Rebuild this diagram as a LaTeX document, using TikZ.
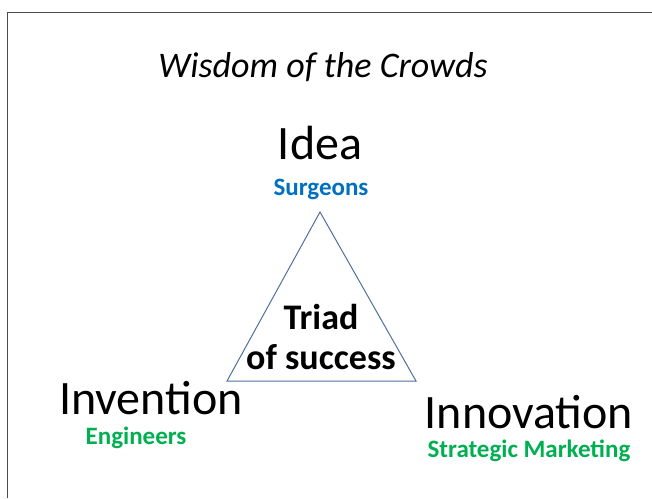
\documentclass[tikz,border=0pt]{standalone}
\usepackage{fontspec}
\setmainfont{Carlito}[Ligatures=Common]
\definecolor{framegray}{HTML}{4A4A4A}
\definecolor{triblue}{HTML}{4F6FA0}
\definecolor{roleblue}{HTML}{0070C0}
\definecolor{rolegreen}{HTML}{00B050}
\begin{document}
\begin{tikzpicture}[x=1pt,y=-1pt,
  heading/.style={inner sep=0pt, anchor=base, font=\fontsize{48}{52}\selectfont},
  role/.style={inner sep=0pt, anchor=base, font=\bfseries\fontsize{25}{28}\selectfont},
]
\useasboundingbox (0,0) rectangle (652,498);
% slide frame (left and top edges)
\draw[framegray, line width=0.8pt] (7,498) -- (7,12) -- (652,12);

\node[inner sep=0pt, anchor=base, font=\itshape\fontsize{36}{40}\selectfont] (title) at (323,77) {Wisdom of the Crowds};

\node[heading] (idea) at (320,159) {Idea};
\node[role, roleblue] (surg) at (321,195) {Surgeons};

% triangle
\coordinate (apex) at (320,212);
\coordinate (bl) at (227,381);
\coordinate (br) at (416,381);
\draw[color=triblue, line width=1pt, line join=miter] (apex) -- (bl) -- (br) -- cycle;

\node[inner sep=0pt, align=center, font=\bfseries\fontsize{36}{40}\selectfont] (triad) at (321,337) {Triad\\of success};

\node[heading] (inv) at (151,414) {Invention};
\node[role, rolegreen] (eng) at (136,444) {Engineers};

\node[heading] (innov) at (529,428) {Innovation};
\node[role, rolegreen] (strat) at (529,457) {Strategic Marketing};
\end{tikzpicture}
\end{document}
